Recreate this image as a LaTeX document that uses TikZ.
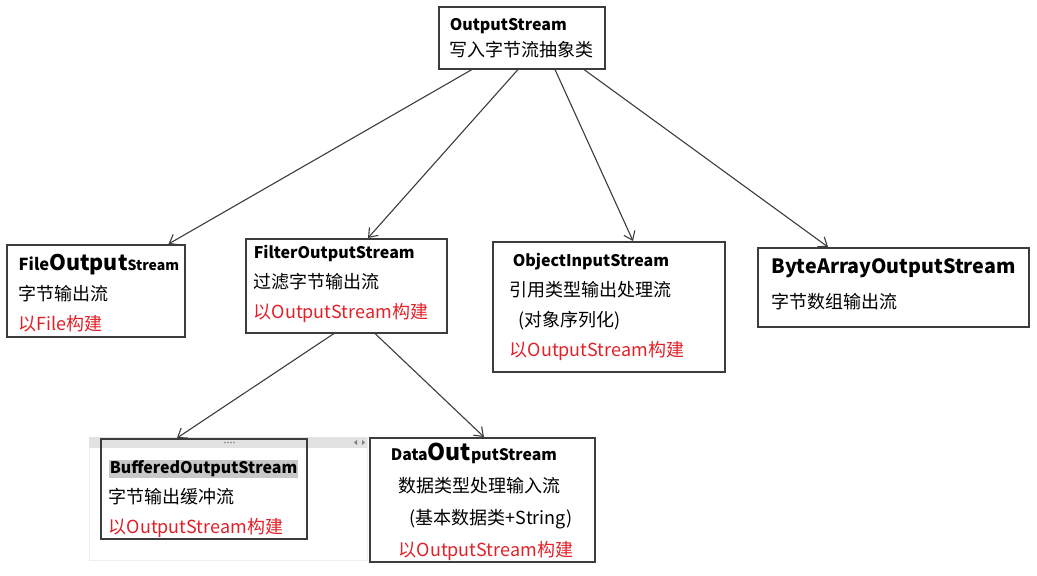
\documentclass[tikz,border=0pt]{standalone}
\usepackage{fontspec}
\setmainfont{Noto Sans CJK SC}
\usetikzlibrary{arrows.meta}
\usepackage{xcolor}

\definecolor{buildred}{RGB}{226,32,40}
\definecolor{edgegray}{RGB}{60,60,60}
\definecolor{hlgray}{RGB}{200,200,200}
\definecolor{panelgray}{RGB}{226,226,226}

\newcommand{\hd}[2][16]{{\fontsize{#1}{30}\selectfont\bfseries #2}}
\newcommand{\build}[1][OutputStream]{\textcolor{buildred}{以#1构建}}

\begin{document}
\begin{tikzpicture}[x=1pt, y=-1pt,
    box/.style={draw=edgegray, line width=1.5pt, anchor=north west,
                align=left, inner ysep=0pt, font=\fontsize{18}{30}\selectfont},
    arr/.style={-{Straight Barb[length=8pt,width=12pt]}, line width=1.1pt, edgegray}
  ]
  \useasboundingbox (0,0) rectangle (1037,576);

  % panel left over from the screenshot
  \draw[panelgray!60, fill=white] (89,437) rectangle (367,560);
  \fill[panelgray] (89,437) rectangle (367,448);
  \foreach \dx in {0,3,6,9}
    \fill[gray] (225+\dx,442.5) circle (0.8);
  \fill[gray] (357,440) -- (354,442.5) -- (357,445) -- cycle;
  \fill[gray] (362,440) -- (365,442.5) -- (362,445) -- cycle;

  \node[box, text width=144pt, inner xsep=11pt, minimum height=62pt,
        font=\fontsize{18}{26}\selectfont] (out) at (438,6)
    {\hd{OutputStream}\\写入字节流抽象类};

  \node[box, text width=154pt, inner xsep=12pt, minimum height=92pt] (file) at (6,244)
    {\rule{0pt}{22pt}\hd[16.5]{File{\fontsize{21.5}{30}\selectfont Output}{\fontsize{14}{30}\selectfont Stream}}\\
     字节输出流\\ \build[File]};
  \node[box, text width=185pt, inner xsep=8pt, minimum height=94pt] (filter) at (245,238)
    {\hd{FilterOutputStream}\\过滤字节输出流\\ \build\vspace*{4pt}};
  \node[box, text width=198pt, inner xsep=17pt, minimum height=130pt] (object) at (492,241)
    {\hd{\hspace{3pt}ObjectInputStream}\\引用类型输出处理流\\ \hspace{9pt}(对象序列化)\\ \build};
  \node[box, text width=243pt, inner xsep=14pt, minimum height=79pt,
        font=\fontsize{18}{35}\selectfont] (bytearr) at (757,247)
    {\hd[19.7]{ByteArrayOutputStream}\\字节数组输出流\vspace*{6pt}};

  \node[box, text width=190pt, inner xsep=8pt, minimum height=100pt] (buffered) at (100,438)
    {\rule{0pt}{34pt}{\setlength{\fboxsep}{1pt}\colorbox{hlgray}{\hd{BufferedOutputStream}}}\\
     字节输出缓冲流\\ \build};
  \node[box, text width=183pt, inner xsep=21pt, minimum height=124pt,
        font=\fontsize{18}{32}\selectfont] (data) at (369,437)
    {\rule{0pt}{22pt}\hd[15.8]{Data{\fontsize{23}{32}\selectfont Out}putStream}\\
     \hspace{8pt}数据类型处理输入流\\ \hspace{19pt}(基本数据类+String)\\ \hspace{8pt}\build};

  \draw[arr] ([xshift=34pt]out.south west) -- ([xshift=-17pt]file.north east);
  \draw[arr] ([xshift=80pt]out.south west) -- ([xshift=123pt]filter.north west);
  \draw[arr] ([xshift=117pt]out.south west) -- ([xshift=141pt]object.north west);
  \draw[arr] ([xshift=146pt]out.south west) -- ([xshift=71pt]bytearr.north west);

  \draw[arr] ([xshift=89pt]filter.south west) -- ([xshift=77pt]buffered.north west);
  \draw[arr] ([xshift=130pt]filter.south west) -- ([xshift=115pt]data.north west);
\end{tikzpicture}
\end{document}
